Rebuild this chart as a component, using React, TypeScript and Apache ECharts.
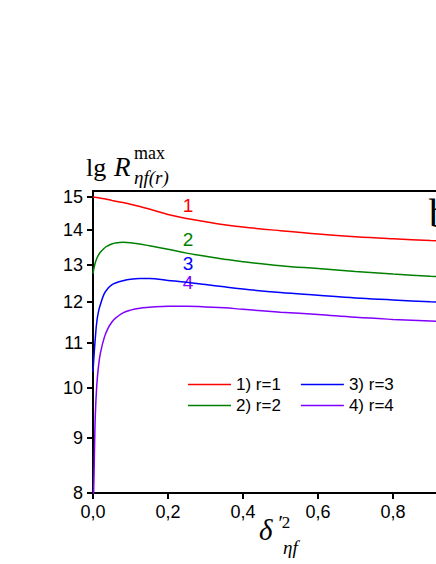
import React, { useEffect, useRef } from "react";
import * as echarts from "echarts";

const xValues = [0, 0.003, 0.006, 0.01, 0.015, 0.02, 0.03, 0.04, 0.05, 0.06, 0.08, 0.1, 0.125, 0.15, 0.2, 0.25, 0.3, 0.35, 0.4, 0.5, 0.6, 0.7, 0.8, 0.9, 1.0];
const r1 = [15.0, 15.0, 15.0, 14.99, 14.98, 14.97, 14.95, 14.93, 14.9, 14.87, 14.83, 14.78, 14.71, 14.63, 14.46, 14.34, 14.24, 14.15, 14.08, 13.97, 13.87, 13.79, 13.73, 13.68, 13.64];
const r2 = [12.75, 12.92, 13.05, 13.17, 13.27, 13.35, 13.46, 13.53, 13.58, 13.61, 13.63, 13.62, 13.58, 13.53, 13.43, 13.32, 13.23, 13.15, 13.08, 12.97, 12.89, 12.81, 12.74, 12.68, 12.63];
const r3 = [10.35, 10.75, 11.1, 11.5, 11.78, 11.95, 12.22, 12.36, 12.45, 12.5, 12.56, 12.6, 12.62, 12.62, 12.57, 12.52, 12.46, 12.4, 12.34, 12.25, 12.18, 12.11, 12.06, 12.01, 11.97];
const r4 = [7.5, 8.4, 9.4, 10.05, 10.5, 10.78, 11.13, 11.35, 11.5, 11.6, 11.73, 11.8, 11.85, 11.87, 11.9, 11.9, 11.88, 11.86, 11.82, 11.75, 11.69, 11.62, 11.57, 11.53, 11.49];
const seriesNames = ["1) r=1", "2) r=2", "3) r=3", "4) r=4"];
const seriesColors = ["#ff0000", "#008000", "#0000ff", "#8000ff"];
const yTicks = [8, 9, 10, 11, 12, 13, 14, 15];
const xTicks = [0, 0.2, 0.4, 0.6, 0.8];
const curveLabels = ["1", "2", "3", "4"];

const SANS = "'Liberation Sans', Arial, sans-serif";
const SERIF = "'Liberation Serif', 'Times New Roman', serif";

export default function App() {
  const ref = useRef<HTMLDivElement>(null);
  useEffect(() => {
    if (!ref.current) return;
    const chart = echarts.init(ref.current, null, { renderer: "svg" });
    const all = [r1, r2, r3, r4];
    const series = all.map((vals, i) => ({
      name: seriesNames[i],
      type: "line",
      data: xValues.map((x, j) => [x, Math.log10(vals[j])]),
      symbol: "none",
      smooth: 0.4,
      clip: true,
      lineStyle: { color: seriesColors[i], width: 1.5 },
      itemStyle: { color: seriesColors[i] },
    }));
    const logTicks = yTicks.map((v) => Math.log10(v));
    const labelY = [205, 239, 263, 282];
    const legendStyle = {
      orient: "horizontal",
      itemWidth: 43,
      itemHeight: 14,
      itemGap: 20,
      textStyle: { fontFamily: SANS, fontSize: 17, color: "#000" },
      icon: "path://M0,0 L43,0 L43,1.5 L0,1.5 Z",
    };
    chart.setOption({
      animation: false,
      backgroundColor: "#fff",
      grid: {
        left: 93,
        top: 191,
        bottom: 71,
        right: -32,
        outerBoundsMode: "none",
        containLabel: false,
        show: true,
        borderColor: "#000",
        borderWidth: 2,
        backgroundColor: "transparent",
      },
      legend: [
        { ...legendStyle, data: [seriesNames[0], seriesNames[2]], left: 183, top: 371 },
        { ...legendStyle, data: [seriesNames[1], seriesNames[3]], left: 183, top: 392 },
      ],
      xAxis: {
        type: "value",
        min: 0,
        max: 1.0,
        interval: 0.2,
        axisLine: { show: true, lineStyle: { color: "#000", width: 2 } },
        axisTick: { show: true, length: 6, customValues: xTicks, lineStyle: { color: "#000", width: 2 } },
        axisLabel: {
          margin: 10,
          fontFamily: SANS,
          fontSize: 18,
          color: "#000",
          customValues: xTicks,
          formatter: (v: number) => v.toFixed(1).replace(".", ","),
        },
        splitLine: { show: false },
      },
      yAxis: {
        type: "value",
        min: Math.log10(8),
        max: Math.log10(15.2),
        axisLine: { show: true, lineStyle: { color: "#000", width: 2 } },
        axisTick: { show: true, length: 6, customValues: logTicks, lineStyle: { color: "#000", width: 2 } },
        axisLabel: {
          margin: 10,
          fontFamily: SANS,
          fontSize: 18,
          color: "#000",
          customValues: logTicks,
          formatter: (v: number) => String(Math.round(Math.pow(10, v))),
        },
        splitLine: { show: false },
      },
      series,
      graphic: [
        ...curveLabels.map((t, i) => ({
          type: "text",
          x: 188,
          y: labelY[i],
          style: { text: t, font: `19px ${SANS}`, fill: seriesColors[i], align: "center", verticalAlign: "middle" },
        })),
        { type: "text", x: 86, y: 167, style: { text: "lg", font: `26px ${SERIF}`, fill: "#000", verticalAlign: "middle" } },
        { type: "text", x: 114, y: 167, style: { text: "R", font: `italic 27px ${SERIF}`, fill: "#000", verticalAlign: "middle" } },
        { type: "text", x: 134, y: 153, style: { text: "max", font: `18px ${SERIF}`, fill: "#000", verticalAlign: "middle" } },
        { type: "text", x: 134, y: 177, style: { text: "ηf(r)", font: `italic 19px ${SERIF}`, fill: "#000", verticalAlign: "middle" } },
        { type: "text", x: 259, y: 530, style: { text: "δ", font: `italic 29px ${SERIF}`, fill: "#000", verticalAlign: "middle" } },
        {
          type: "text",
          x: 277,
          y: 522,
          style: {
            text: "{p|′}{n|2}",
            fill: "#000",
            verticalAlign: "middle",
            rich: {
              p: { fontFamily: SERIF, fontStyle: "italic", fontSize: 22, fill: "#000" },
              n: { fontFamily: SERIF, fontSize: 17, fill: "#000" },
            },
          },
        },
        { type: "text", x: 283, y: 547, style: { text: "ηf", font: `italic 19px ${SERIF}`, fill: "#000", verticalAlign: "middle" } },
        { type: "text", x: 429, y: 213, style: { text: "b", font: `40px ${SERIF}`, fill: "#000", verticalAlign: "middle" } },
      ],
    });
    return () => chart.dispose();
  }, []);
  return <div ref={ref} style={{ position: "fixed", left: 0, top: 0, width: 436, height: 564 }} />;
}
